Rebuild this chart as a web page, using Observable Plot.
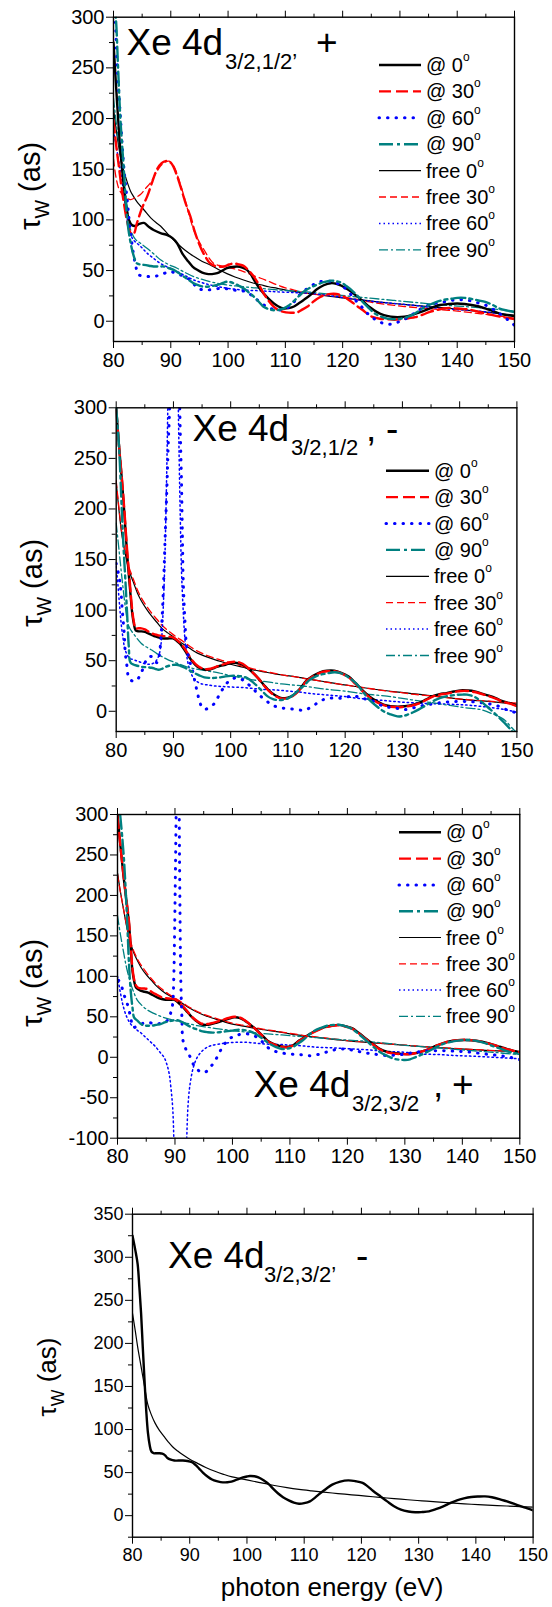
<!DOCTYPE html>
<html><head><meta charset="utf-8">
<script src="https://cdn.jsdelivr.net/npm/d3@7"></script>
<script src="https://cdn.jsdelivr.net/npm/@observablehq/plot@0.6"></script>
<style>
html,body{margin:0;padding:0;background:#fff;}
#wrap{position:relative;width:552px;height:1607px;background:#fff;overflow:hidden;}
#wrap svg{position:absolute;left:0;}
</style>
</head><body><div id="wrap"></div>
<script>
// ---------------- axis ticks ----------------
const xMajor = [80, 90, 100, 110, 120, 130, 140, 150];
const xMinor = [85, 95, 105, 115, 125, 135, 145];
const yMajorA = [0, 50, 100, 150, 200, 250, 300];
const yMinorA = [25, 75, 125, 175, 225, 275];
const yMajorC = [-100, -50, 0, 50, 100, 150, 200, 250, 300];
const yMinorC = [-75, -25, 25, 75, 125, 175, 225, 275];
const yMajorD = [0, 50, 100, 150, 200, 250, 300, 350];
const yMinorD = [-25, 25, 75, 125, 175, 225, 275, 325];
const legendLabels = ["@ 0", "@ 30", "@ 60", "@ 90", "free 0", "free 30", "free 60", "free 90"];

// ---------------- panel 1 : Xe 4d3/2,1/2', + ----------------
const p1_at0 = [[80,275],[80.6,218],[81.2,169],[81.8,133],[82.3,110],[82.7,100],[83.2,95],[83.8,94],[84.5,96],[85.3,97],[86.2,93],[87,90],[88.2,87],[89.4,85],[90.3,82],[91.1,77],[92,67],[92.9,60],[93.8,54],[94.6,50.7],[95.5,48],[96.3,46.7],[97.2,46.5],[98.1,47.4],[99,50],[99.8,52.3],[100.7,53.5],[101.6,54],[102.5,53],[103.3,50.7],[104,46],[104.5,41],[105.3,34],[106.2,27.5],[107.1,22],[108,17.5],[108.8,14.5],[109.7,12.6],[110.6,13],[111.5,14.5],[112.3,17.5],[113.2,21],[114.4,26],[115.5,31.5],[116.7,35.5],[117.9,37.5],[118.9,37],[119.8,35],[121,31],[122.2,26],[123.5,20],[124.7,14],[126,9],[127.2,6],[128.4,4.5],[129.6,4],[130.8,4.5],[132,6],[133.3,8.5],[134.5,11],[135.8,14],[137,16],[138.5,17],[140,17.5],[141.3,17],[142.5,16],[143.8,14.5],[145,12.5],[146.2,10],[147.4,7.5],[148.7,6],[150,5]];
const p1_at30 = [[80,198],[80.5,172],[81,150],[81.4,132],[81.8,117],[82.4,98],[83,87],[83.5,86],[84.1,97],[85,112],[85.9,123.5],[86.8,138],[87.6,150],[88.4,156],[89.1,158],[89.7,157.5],[90.2,155],[91,145],[91.7,133],[92.5,118],[93.4,103.6],[94.1,90],[94.9,77],[95.9,65],[96.9,57],[98.1,54],[99.3,54],[100.2,56],[101,57],[101.9,56],[102.7,54.6],[103.6,50],[104.5,44],[105.4,36],[106.2,27.5],[107.1,20],[108,14.2],[108.8,11],[109.7,9.3],[110.6,8.5],[111.4,8.3],[112,8.5],[112.8,11],[113.8,14.2],[114.6,18],[115.5,22],[116.7,25.5],[117.9,27],[118.9,27],[119.8,25.5],[120.7,22.5],[121.6,19],[122.5,15],[123.5,11],[124.4,7],[125.3,4],[126.5,2.5],[127.8,2],[129,1.5],[130.2,2],[131.5,3],[132.7,4],[134,6.5],[135.1,9],[136.4,11],[137.6,12.5],[139,13],[140,12.5],[141.3,12],[142.5,11],[144.3,8.5],[146.2,6],[148,4],[150,2]];
const p1_at60 = [[80,320],[80.3,300],[80.6,257],[81.2,202],[81.8,152],[82.4,119],[83,86],[83.8,57],[84.4,46],[85.4,44.5],[86.5,44],[87.4,44.5],[88.2,45.7],[89,47.5],[89.9,49],[90.8,47.5],[91.7,45.7],[92.5,43.5],[93.4,40.7],[94,37],[94.6,32.5],[95.4,31.2],[96.3,30.8],[97.5,31.5],[98.7,32.5],[99.8,32],[101,30.8],[102.2,30],[103.3,29],[104.2,25],[105.1,20.9],[106,17],[106.8,14.2],[107.7,12],[108.6,10.9],[109.6,12],[110.6,14],[111.5,19],[112.4,25.6],[113.3,30],[114.3,34],[115.2,37],[116.1,39],[117.2,39.5],[118.3,39],[119.2,37],[120.1,34],[121.2,28],[122.2,21],[123.2,15],[124.1,9],[125,4.5],[125.9,1],[126.8,-1.5],[127.8,-3],[128.7,-2.5],[129.6,-1],[130.6,1.5],[131.5,4],[132.4,7.5],[133.3,11],[134.2,13.5],[135.1,16],[136.4,18],[137.6,19],[138.8,20.5],[140,21],[141.3,21],[142.5,20],[143.7,18],[144.9,16],[146.2,12],[147.4,7.5],[148.7,2],[150,-4]];
const p1_at90 = [[80,320],[80.4,300],[80.8,250],[81.2,200],[81.8,150],[82.4,100],[83,77],[83.5,65],[84.1,57],[84.7,56],[85.3,55.6],[86.2,54.8],[87,54],[88,54],[88.8,54],[89.6,52.5],[90.5,50.7],[91.4,47.5],[92.3,44],[93.2,40.5],[94,37.4],[94.9,35.3],[95.8,34],[96.9,34.5],[98.1,35.8],[99,37.5],[99.8,39],[100.5,38.5],[101,37.4],[101.9,35],[102.7,32.5],[103.6,28.5],[104.5,24.2],[105.4,19],[106.2,14.2],[107.1,12],[108,10.9],[108.9,11.2],[109.7,12.6],[110.6,15.5],[111.5,20],[112.4,25],[113.3,29.5],[114.3,33],[115.5,36],[116.7,38.5],[117.9,40],[118.9,39.5],[119.8,38],[120.7,34.5],[121.6,30.5],[122.6,25],[123.5,19],[124.4,14],[125.3,9],[126.5,5],[127.8,2.6],[129,2],[130.2,2.6],[131.2,4],[132.1,6],[133,9],[133.9,12.5],[135.1,16],[136.4,19],[137.6,21],[138.8,22],[140,23],[141.3,23],[142.5,22],[143.7,20.5],[144.9,19],[146.2,16],[147.4,12.5],[148.7,10.5],[150,9]];
const p1_free0 = [[80,210],[80.7,180],[81.4,157],[82.3,139],[83,128],[83.4,124],[84.2,117],[85.3,110],[86.5,102],[87.5,97],[88.2,94],[89.5,86],[91.1,77],[92.5,70],[94,64],[95.5,59],[96.9,55.5],[98.3,51],[99.8,47],[101.2,43.7],[102.7,40.7],[104.2,38],[105.7,36],[107.1,34],[108.6,32.5],[110.9,30],[113.2,28],[116,26],[120,23],[124,20.5],[128,18],[132,16],[136,14],[140,12],[145,9],[150,6]];
const p1_free30 = [[80,160],[80.5,140],[81,130],[81.7,124],[82.4,121],[83,120],[83.8,122],[84.7,125],[85.6,131],[86.5,137],[87.3,145],[88.2,153],[89,157],[89.7,158],[90.3,155],[90.8,150],[91.5,138],[92.3,123.5],[93.2,105],[94,90],[94.9,79],[95.8,70.5],[96.6,63],[97.5,57],[98.4,55],[99.3,54],[100.5,52.5],[101.6,51],[102.7,49],[104.2,45.5],[105.7,42.4],[107.2,39],[108.6,35.8],[110,33],[111.5,30.8],[113,28.5],[114.4,27],[116.1,26],[118.6,25],[121.6,22.5],[124.7,19],[127.8,16.5],[130.8,14.5],[133.9,13],[137,11.5],[140,10],[143.1,8],[146.2,6],[150,3]];
const p1_free60 = [[80,188],[80.5,172],[81,155],[81.5,138],[82,118],[82.4,100],[82.9,87],[83.5,80],[84.1,77],[84.7,74],[85.3,70.5],[85.9,67],[87,62],[88.2,57],[89.6,53],[91.1,49],[92.5,45],[94,40.7],[95.5,38],[96.9,35.8],[98.4,34],[99.8,32.5],[101.3,31.5],[102.7,30.8],[104.2,30.4],[105.7,30],[107.2,29.5],[108.6,29],[111.5,28.3],[114.4,27.5],[118,25],[121.6,22],[125.3,19.5],[129,17.5],[132.7,15.5],[136.4,13],[140,11.5],[143.7,10],[147.4,7.5],[150,5]];
const p1_free90 = [[80,220],[80.6,190],[81.2,165],[81.8,140],[82.4,112],[83,90],[83.8,81],[84.7,77],[85.6,73],[86.5,69],[87.4,64.5],[88.2,60.6],[89.6,56],[91.1,52.3],[92.5,48],[94,44],[95.5,41.2],[96.9,39],[98.4,37.2],[99.8,35.8],[101.3,34.8],[102.7,34],[104.2,33.2],[105.7,32.5],[107.2,31.6],[108.6,30.8],[111.5,29.8],[114.4,28.6],[118,26.5],[121.6,24.5],[125.3,22.5],[129,20.5],[132.7,18.5],[136.4,16.5],[140,15],[143.7,13.5],[147.4,11.5],[150,10]];

// ---------------- panel 2 : Xe 4d3/2,1/2 , - ----------------
const p2_at0 = [[80,300],[80.5,262],[81,228],[81.5,190],[81.9,156],[82.4,122],[82.8,97],[83.1,86],[83.4,80],[83.9,79],[84.4,79],[85,78.5],[85.6,77],[86.2,75.5],[86.8,74],[87.4,73],[88,72],[89,72],[89.9,72],[90.5,70],[91.1,67],[91.7,62.5],[92.3,57.5],[93.2,50],[94.2,44],[95,42],[95.7,41],[96.5,41.5],[97.2,43],[98.2,45],[99.1,46],[99.9,47.5],[100.6,48],[101.4,47.5],[102.1,46],[103,42.5],[103.9,38],[104.9,32],[105.8,26],[106.7,20.5],[107.7,16],[108.6,13.5],[109.5,13],[110.5,14.5],[111.4,18],[112.3,23.5],[113.2,30],[114.4,35],[115.6,38.5],[116.8,40],[118.1,40],[119.3,38],[120.6,34.5],[121.8,28],[123,21],[124.3,14.5],[125.5,10],[126.7,6.5],[127.9,5],[129.2,4.5],[130.4,5],[131.6,6],[132.8,8],[134.1,11.5],[135.3,15],[136.5,17],[137.7,18],[139,19.5],[140.2,20.7],[141.4,20.5],[142.6,19.7],[143.9,17.5],[145.1,15.4],[146.3,13],[147.5,10],[148.8,8],[150,5.6]];
const p2_at30 = [[80,298],[80.5,262],[81,230],[81.5,193],[81.9,160],[82.4,126],[82.8,100],[83.1,88],[83.4,82],[83.9,82],[84.4,82],[85,81],[85.6,79],[86.2,77],[86.8,76],[87.4,75],[88,74.5],[89,74],[89.9,73],[90.5,71],[91.1,68],[91.7,64],[92.3,59],[93.2,51],[94.2,45],[95,42.5],[95.7,41.5],[96.5,42],[97.2,43.5],[98.2,45.5],[99.1,47],[99.9,48.5],[100.6,49],[101.4,48.5],[102.1,47],[103,43],[103.9,38],[104.9,32],[105.8,25.5],[106.7,20],[107.7,15.5],[108.6,13],[109.5,12.5],[110.5,14],[111.4,17.5],[112.3,23],[113.2,29.5],[114.4,34.5],[115.6,38],[116.8,39.5],[118.1,39.5],[119.3,37.5],[120.6,33.5],[121.8,27],[123,20],[124.3,13.5],[125.5,9],[126.7,6],[127.9,4.5],[129.2,4],[130.4,4.5],[131.6,5.5],[132.8,7.5],[134.1,11],[135.3,14.5],[136.5,16.5],[137.7,17.5],[139,19],[140.2,20],[141.4,20],[142.6,19],[143.9,17],[145.1,15],[146.3,12.5],[147.5,9.5],[148.8,7.5],[150,5]];
const p2_at60 = [[80,146],[80.5,133],[80.8,120],[81.1,97],[81.4,77],[81.6,57],[81.9,44],[82.2,33],[82.8,30],[83.4,30],[83.7,31],[84.1,35],[84.4,38],[84.9,46],[85.3,51],[85.8,54],[86.2,54],[86.7,51],[87.1,48],[87.4,52],[87.7,64],[88,90],[88.3,130],[88.6,180],[88.9,228],[89.1,265],[89.3,294],[89.5,340],[89.7,400],[90.9,400],[91.1,300],[91.4,228],[91.6,160],[91.7,130],[92,90],[92.3,64],[92.8,50],[93.3,41],[93.8,28],[94.2,18],[94.6,9],[95.1,3],[95.6,2],[96,3],[96.6,5],[97.2,8],[97.8,14],[98.5,21],[99.1,26],[99.7,30],[100.3,32],[100.9,33],[101.5,32.5],[102.1,31],[102.7,28.5],[103.4,25],[104.3,20],[105.2,15],[106.2,10.5],[107.1,6.6],[108,4.5],[108.9,3.3],[109.8,2.8],[110.7,2.3],[111.7,1.5],[112.6,1],[113.2,1.8],[113.8,3.3],[114.7,6.5],[115.6,10],[116.5,12],[117.5,13],[118.4,13.2],[119.3,13],[120.2,14],[121.2,15],[122.1,14.5],[123,13],[123.9,11.5],[124.8,10],[125.7,7.5],[126.7,5],[127.6,4],[128.5,3.3],[129.5,2.5],[130.4,1.6],[131.7,3],[133,5],[134.5,6.5],[136,8],[137.5,9],[139,9.5],[140.5,9.8],[141.8,9.5],[143,9],[144.3,8],[145.5,7],[146.8,5],[148,2],[149,0],[150,-1.6]];
const p2_at90 = [[80,300],[80.5,261],[81,196],[81.3,160],[81.6,130],[81.9,97],[82.2,64],[82.5,48],[83.1,46],[83.7,45],[84.4,44],[85.3,43.5],[86.2,43],[86.8,42],[87.4,41],[88,42],[88.7,44],[89.6,45.5],[90.5,46],[91.2,45],[92,43],[92.8,40.5],[93.6,38],[94.5,35.5],[95.4,33.5],[96.3,33],[97.2,33],[98.2,33.5],[99.1,34.5],[100,35],[100.9,35],[101.9,34.5],[102.8,33],[103.7,29.5],[104.6,25],[105.5,20],[106.4,15],[107.4,12],[108.3,11],[109.2,11.5],[110.1,13],[111,16.5],[111.9,21],[112.9,26],[113.8,31],[114.7,34],[115.6,36],[116.9,37.5],[118.1,38.5],[119,38],[119.9,36],[120.8,32.5],[121.8,28],[123,20],[124.2,11.5],[125.5,5],[126.7,0],[127.9,-3],[129.1,-5],[130,-4.8],[130.9,-3.3],[131.9,-1],[132.8,1.6],[133.7,4.5],[134.7,8],[135.9,11.5],[137.1,14],[138.4,15.5],[139.6,16.3],[140.5,16.5],[141.3,16.4],[142.5,14.5],[143.7,10],[144.6,5.5],[145.4,1.6],[146.3,-3],[147.2,-8],[148,-12.5],[148.9,-18],[149.5,-22],[150,-26]];
const p2_free0 = [[80,226],[80.5,198],[81,174],[81.6,155],[82.2,140],[82.7,132],[83.1,126],[83.7,117],[84.4,109],[85.3,101],[86.2,94],[87.1,88],[88,82],[89,77.5],[89.9,74],[90.8,70],[91.7,66.5],[92.9,62],[94.2,57.5],[95.7,54],[97.2,51],[98.7,48.5],[100.3,46],[102.1,43.5],[103.9,41],[105.8,39],[107.7,37],[109.5,35.5],[111.4,34],[113.2,32.2],[115,30.5],[116.9,28.8],[118.7,27],[120.6,25.5],[122.4,24],[124.2,22.5],[126.1,21],[127.9,19.8],[129.8,18.7],[131.6,17.5],[133.4,16.4],[135.3,15.2],[137.1,14],[139,12.8],[140.8,11.5],[142.6,10.7],[144.5,10],[146.4,9],[148.2,8],[150,7]];
const p2_free30 = [[80,228],[80.5,200],[81,176],[81.6,157],[82.2,143],[82.7,135],[83.1,129],[83.7,120],[84.4,112],[85.3,104],[86.2,97],[87.1,91],[88,85],[89,80],[89.9,76],[90.8,72.5],[91.7,69],[92.9,64],[94.2,59.5],[95.7,55.5],[97.2,52.5],[98.7,50],[100.3,47.5],[102.1,44.5],[103.9,42],[105.8,39.5],[107.7,37.5],[109.5,35.5],[111.4,34],[113.2,32],[115,30.5],[116.9,28.5],[118.7,27],[120.6,25.5],[122.4,24],[124.2,22.5],[126.1,21],[127.9,19.5],[129.8,18.5],[131.6,17],[133.4,16],[135.3,15],[137.1,13.8],[139,12.7],[140.8,11.8],[142.6,11],[144.5,10.2],[146.4,9.5],[148.2,8.8],[150,8]];
const p2_free60 = [[80,143],[80.3,125],[80.6,104],[80.9,85],[81.2,72],[81.5,62],[82,55],[82.5,52],[83,51],[83.5,50],[84,49],[84.5,48],[85,47],[85.5,46.5],[86,46.5],[86.5,47.5],[87,50],[87.5,56],[87.9,70],[88.2,100],[88.5,150],[88.7,200],[88.9,260],[89.1,330],[89.3,400],[90.6,400],[90.8,320],[91,250],[91.2,190],[91.4,140],[91.7,100],[92,72],[92.4,52],[92.9,40],[93.5,33],[94.2,29],[95,27],[96,26],[97.2,25],[98.5,24.5],[100,24],[102,23.5],[104,22.5],[106,21.5],[108,21],[110,20],[112,19],[114,17.5],[116,16.5],[118,15.5],[120,14.5],[122,13],[124,12],[126,11],[128,10],[130,9],[132,8.3],[135,7.5],[138,7],[140,6.5],[142,5.8],[145,4],[148,1.5],[150,-1]];
const p2_free90 = [[80,186],[80.5,159],[81,132],[81.6,103],[82.2,84],[83.1,76],[84.4,67],[85.3,63.5],[86.2,60.5],[87.1,57],[88,54],[89,51],[89.9,49],[91.1,46.5],[92.3,44],[93.5,42.2],[94.8,41],[96.3,39.5],[97.9,38],[99.7,35.5],[101.5,33.5],[103.4,31.5],[105.2,30],[107.1,28.5],[108.9,27],[110.7,26],[112.6,25],[114.5,23.5],[116.3,22],[118.1,21],[119.9,20],[121.8,18.5],[123.6,17],[125.5,16],[127.3,15],[129.7,13],[132.6,10.5],[135.5,8.2],[138.3,5.8],[141,3.5],[143.7,1.6],[145.7,-2.5],[147.7,-8],[149.4,-18],[150,-21]];

// ---------------- panel 3 : Xe 4d3/2,3/2 , + ----------------
const p3_at0 = [[80,300],[80.5,262],[81,227],[81.5,196],[82,165],[82.3,135],[82.6,107],[82.9,94],[83.2,86.5],[83.6,84],[84.1,82],[84.7,81],[85.3,80],[86.1,77],[86.9,74],[87.7,72],[88.4,71],[89.2,71],[89.9,71],[90.5,68],[91.1,64],[91.9,58],[92.7,51.5],[93.6,45.5],[94.5,41],[95.4,40],[96.3,41],[97.3,43],[98.2,45],[99.3,47.5],[100.3,49.4],[101.3,48.5],[102.2,45],[103,41],[103.7,37],[104.9,29],[106.1,20.6],[107,17],[108,14.4],[108.9,13],[109.8,13],[110.7,15.5],[111.6,20.6],[112.6,25],[113.5,29],[114.7,33.5],[115.9,37],[117.2,39],[118.4,40],[119.6,38.5],[120.8,36],[122,30],[123.3,22.7],[124.5,16],[125.7,10],[127,6.5],[128.2,5],[129.4,4.2],[130.6,4],[131.8,5.2],[133,7.4],[134.3,10.5],[135.5,14.4],[136.7,17.5],[137.9,19.8],[139.2,21],[140.4,21.4],[141.6,21],[142.9,19.8],[144.1,18],[145.3,15.7],[146.5,13],[147.7,10.3],[148.9,8],[150,6.2]];
const p3_at30 = [[80,298],[80.5,262],[81,228],[81.5,198],[82,168],[82.3,138],[82.6,110],[82.9,96],[83.2,89],[83.6,86],[84.1,85],[84.7,85],[85.3,84],[86.1,80],[86.9,77],[87.7,74],[88.4,73],[89.2,72.5],[89.9,72],[90.5,69],[91.1,65],[91.9,59],[92.7,52],[93.6,46],[94.5,42],[95.4,41],[96.3,42],[97.3,44],[98.2,46],[99.3,48.5],[100.3,50],[101.3,49],[102.2,45.5],[103,41],[103.7,37],[104.9,28.5],[106.1,20],[107,16.5],[108,14],[108.9,12.5],[109.8,12.5],[110.7,15],[111.6,20],[112.6,24.5],[113.5,28.5],[114.7,33],[115.9,36.5],[117.2,38.5],[118.4,39.5],[119.6,38],[120.8,35.5],[122,29.5],[123.3,22],[124.5,15.5],[125.7,9.5],[127,6],[128.2,4.5],[129.4,4],[130.6,3.8],[131.8,5],[133,7.2],[134.3,10.5],[135.5,14.4],[136.7,17.5],[137.9,20],[139.2,21.2],[140.4,21.6],[141.6,21.2],[142.9,20],[144.1,18],[145.3,15.5],[146.5,12.8],[147.7,10],[148.9,8],[150,6.5]];
const p3_at60 = [[80.2,95],[80.6,90],[81.1,78],[81.7,66],[82.3,49],[82.7,37],[83.3,38],[84.1,41],[84.7,42.5],[85.3,43],[86.1,42],[86.9,41],[87.5,42],[88.1,43],[88.6,45],[89,49],[89.3,56],[89.6,66],[89.8,100],[89.95,160],[90.1,240],[90.25,330],[90.4,420],[90.55,420],[90.7,330],[90.8,240],[90.9,160],[91,100],[91.2,50],[91.4,20.6],[91.9,10],[92.4,4],[92.9,-4],[93.3,-10],[93.9,-15],[94.5,-18.5],[95.1,-18.5],[95.7,-16.5],[96.3,-11],[97,-4],[97.6,4],[98.2,12],[98.8,18],[99.4,22.7],[100,25],[100.6,26.8],[101.5,28.5],[102.5,29],[103.4,27.5],[104.3,24.7],[105.2,19],[106.1,12.4],[107,8.5],[108,6.2],[108.9,5],[109.8,4],[110.7,3.6],[111.6,3.3],[112.6,2.6],[113.5,2],[114.4,2.8],[115.3,4],[116.2,6],[117.1,8],[118,9.5],[119,10.3],[119.9,9.8],[120.8,9],[121.7,7.5],[122.7,6.2],[123.6,5],[124.5,4],[125.8,3],[127,2],[128.2,2.6],[129.4,3.3],[130.6,4.8],[131.8,6.2],[133,7.2],[134.3,8],[135.5,8],[136.7,8],[138,7.7],[139.2,7.4],[140.4,6.8],[141.6,6.2],[142.9,5],[144.1,4],[145.3,3],[146.5,2],[147.7,0.8],[148.9,-1],[150,-3.3]];
const p3_at90 = [[80,330],[80.5,297],[81.1,247],[81.7,165],[82,115],[82.3,82],[82.6,62],[82.9,49],[83.5,45],[84.1,41],[84.7,39],[85.3,39],[85.9,39],[86.7,40],[87.5,41],[88.2,43],[89,44.5],[89.6,45.5],[90.2,46],[90.8,45],[91.4,43],[92.1,40],[92.9,37],[93.8,34.5],[94.8,32],[95.7,31],[96.6,30.5],[97.7,31],[98.8,32],[100,33],[101.2,34],[102.1,33.5],[103.1,32],[104,29],[104.9,24.7],[105.8,20],[106.7,15.7],[107.6,12.5],[108.6,10.3],[109.5,10.6],[110.4,12.4],[111.3,16.5],[112.3,21.4],[113.2,27],[114.1,32],[115.3,36],[116.5,39],[117.6,40],[118.7,40],[119.8,38],[120.8,35],[122,28.5],[123.3,20.6],[124.5,13],[125.7,6.2],[127,1.5],[128.2,-2],[129.1,-3],[130,-3.3],[130.9,-2.5],[131.8,0],[133,3.5],[134.3,8],[135.5,12.5],[136.7,16.5],[138,19],[139.2,20.6],[140.1,21.2],[141,21.4],[142.3,20.5],[143.5,18.5],[144.7,15.5],[145.9,12.4],[147.2,9],[148.4,6.2],[150,4]];
const p3_free0 = [[80,228],[80.5,205],[81,185],[81.5,165],[82,148],[82.5,136],[82.9,128],[83.5,119],[84.1,111],[85,102],[85.9,95],[86.8,88],[87.8,82],[88.7,77.5],[89.6,74],[90.5,70],[91.4,66],[92.6,60.5],[93.9,55.6],[95.4,51],[97,47.4],[98.5,44],[100,41],[101.9,38.5],[103.7,36],[105.5,34],[107.4,32],[109.2,30],[111,28],[112.9,26.3],[114.7,24.7],[116.5,23],[118.4,21.5],[120.2,20.2],[122,19.2],[123.9,18.2],[125.7,17.2],[127.5,16.2],[129.4,15.2],[131.2,14.2],[133,13.2],[134.9,12.3],[136.7,11.5],[138.5,10.7],[140.4,10],[142.2,9.3],[144.1,8.6],[146,8],[148,7.5],[150,7]];
const p3_free30 = [[80,226],[80.5,204],[81,185],[81.5,166],[82,150],[82.5,138],[82.9,130],[83.5,121],[84.1,114],[85,105],[85.9,97],[86.8,90],[87.8,84],[88.7,79],[89.6,75],[90.5,71],[91.4,67],[92.6,61.5],[93.9,56.5],[95.4,52],[97,48.5],[98.5,45],[100,42],[101.9,39.5],[103.7,37],[105.5,34.5],[107.4,32.5],[109.2,30.5],[111,28.5],[112.9,26.5],[114.7,25],[116.5,23.5],[118.4,22],[120.2,20.5],[122,19.4],[123.9,18.4],[125.7,17.4],[127.5,16.4],[129.4,15.4],[131.2,14.4],[133,13.4],[134.9,12.5],[136.7,11.7],[138.5,10.9],[140.4,10.2],[142.2,9.5],[144.1,8.8],[146,8.2],[148,7.7],[150,7.2]];
const p3_free60 = [[80,100],[80.5,80],[81,63],[81.6,50],[82.3,41],[82.9,37],[83.5,33],[84.1,30],[84.7,26],[85.3,22],[85.9,18],[86.5,14],[87.3,7],[88.1,0],[88.6,-9],[89,-20.6],[89.3,-38],[89.6,-62],[89.8,-100],[89.9,-140],[91.9,-140],[92.05,-100],[92.25,-62],[92.5,-40],[92.7,-30],[93,-18],[93.3,-10],[93.8,-1],[94.5,6],[95.3,11],[96.3,14.4],[97.8,16.5],[99.4,18],[101,18.5],[102.5,18.5],[104,17.5],[105.5,16.5],[107,16],[108.6,15.7],[110.1,15],[111.6,14.4],[113.2,13.4],[114.7,12.4],[116.2,12],[117.8,11.5],[119.3,11],[120.8,10.3],[122.3,9.7],[123.9,9],[125.4,8.2],[126.9,7.4],[128.4,6.8],[130,6.2],[131.5,5.1],[133,4],[134.6,3.6],[136.1,3.3],[137.6,2.6],[139.2,2],[140.7,1.6],[142.2,1.2],[143.7,0.6],[145.3,0],[146.8,-0.6],[148.4,-1.2],[150,-2]];
const p3_free90 = [[80,175],[80.5,152],[81,132],[81.6,110],[82.3,91],[82.9,79],[83.5,70],[84.4,63],[85.3,58],[86.2,54.5],[87.2,51.5],[88.1,49],[89,47],[90.2,45],[91.4,43],[92.7,41],[93.9,39],[95.7,37],[97.6,35],[99.4,33.5],[101.2,32],[103.1,30.8],[104.9,29.7],[106.7,28.6],[108.6,27.6],[110.4,26.5],[112.3,25.5],[114.1,24.5],[115.9,23.5],[117.8,22.5],[119.6,21.4],[121.4,20.6],[123.3,19.8],[125.1,18.5],[127,17.3],[128.8,15.8],[130.6,14.4],[132.5,13.4],[134.3,12.4],[136.1,11.4],[138,10.3],[139.8,9.2],[141.6,8.2],[143.5,7.2],[145.3,6.2],[147.2,5],[150,3.3]];

// ---------------- panel 4 : Xe 4d3/2,3/2', - ----------------
const p4_at0 = [[80,325],[80.5,308],[80.9,292],[81.2,265],[81.5,235],[81.8,195],[82.1,157],[82.4,122],[82.7,96],[83,82],[83.3,74.5],[83.7,72.5],[84.2,72.5],[84.7,72.5],[85.2,72],[85.7,70],[86.1,67],[86.7,65],[87.3,64],[88,64],[88.8,64],[89.6,63.5],[90.4,62],[91,59],[91.6,55],[92.3,50],[93.1,45.5],[93.9,42],[94.7,40],[95.4,39],[96.2,38.6],[97,39.2],[97.7,40.5],[98.5,42.5],[99.3,44.4],[100,45.5],[100.5,46],[101.3,45.7],[102,44.4],[102.9,41],[103.9,36],[104.6,31],[105.4,26],[106.3,21.5],[107.3,17.8],[108.2,15.2],[109.1,13.9],[110,14.5],[111,16.6],[111.9,21],[112.8,26],[113.8,31],[114.9,36],[116.3,39.5],[117.7,41],[119,40],[120.2,38],[121.1,34],[122,29],[123.3,22.5],[124.5,16.6],[125.7,11],[126.9,7],[128.2,4.8],[129.4,3.9],[130.6,4.2],[131.8,5],[133,7.5],[134.3,10.8],[135.5,14.5],[136.7,17.8],[137.9,20],[139.2,21.6],[140.4,22.2],[141.6,22.4],[142.8,21.4],[144.1,19.3],[145.3,16.8],[146.6,13.9],[147.8,11],[149,8.5],[150,6.2]];
const p4_free0 = [[80,235],[80.5,214],[80.9,196],[81.5,173],[82.1,150],[82.7,128.5],[83.3,117],[83.9,108],[84.7,99],[85.5,92],[86.2,86],[87,80],[87.9,75],[88.8,70.6],[90,65.5],[91.3,61],[92.8,56],[94.4,51.5],[95.9,48],[97.4,45],[99.3,42.5],[101.1,40],[103,37.5],[104.8,35],[107,32.5],[109.1,30.5],[111.3,28.8],[113.4,27.3],[115.9,25.7],[118.3,24.2],[120.8,22.7],[123.2,21.2],[125.7,19.8],[128.1,18.5],[130.6,17.2],[133.1,16],[135.5,14.8],[138,13.7],[140.4,12.8],[142.9,12],[145.4,11.2],[147.7,10.5],[150,10]];

// ---------------- styles ----------------
const styleAt0   = {stroke: "#000000", strokeWidth: 2.4};
const styleAt30  = {stroke: "#ff0000", strokeWidth: 2.4, strokeDasharray: "12,5"};
const styleAt60  = {stroke: "#0000ff", strokeWidth: 3, strokeDasharray: "0.5,8", strokeLinecap: "round"};
const styleAt90  = {stroke: "#008080", strokeWidth: 2.4, strokeDasharray: "14,4,3,4"};
const styleFree0 = {stroke: "#000000", strokeWidth: 1.2};
const styleFree30= {stroke: "#ff0000", strokeWidth: 1.3, strokeDasharray: "7,4"};
const styleFree60= {stroke: "#0000ff", strokeWidth: 1.5, strokeDasharray: "1.5,3"};
const styleFree90= {stroke: "#008080", strokeWidth: 1.3, strokeDasharray: "9,3,2,3"};
const legendStyles = [styleAt0, styleAt30, styleAt60, styleAt90, styleFree0, styleFree30, styleFree60, styleFree90];

const FONT = "'Liberation Sans', Arial, Helvetica, sans-serif";

function makePanel(cfg) {
  const marks = [];
  marks.push(Plot.axisX({ticks: xMajor, tickSize: 7, tickPadding: 4, tickFormat: d => String(d), label: null}));
  marks.push(Plot.axisX({ticks: xMinor, tickSize: 4, text: null, label: null}));
  marks.push(Plot.axisX({anchor: "top", ticks: xMajor, tickSize: 7, text: null, label: null}));
  marks.push(Plot.axisX({anchor: "top", ticks: xMinor, tickSize: 4, text: null, label: null}));
  marks.push(Plot.axisY({ticks: cfg.yMajor, tickSize: 7, tickPadding: 2, tickFormat: d => String(d), label: null}));
  marks.push(Plot.axisY({ticks: cfg.yMinor, tickSize: 4, text: null, label: null}));
  for (const [data, st] of cfg.series) {
    marks.push(Plot.line(data, {x: d => d[0], y: d => d[1], curve: "catmull-rom", clip: true, ...st}));
  }
  marks.push(Plot.frame({stroke: "#000", strokeWidth: 1.4}));
  const svg = Plot.plot({
    width: 552, height: cfg.height,
    marginLeft: cfg.ml, marginRight: cfg.mr, marginTop: cfg.mt, marginBottom: cfg.mb,
    x: {domain: [80, 150]},
    y: {domain: cfg.yDomain},
    style: {fontFamily: FONT, fontSize: cfg.fs + "px", color: "#000", background: "transparent", overflow: "visible"},
    marks
  });
  svg.style.top = cfg.top + "px";
  document.getElementById("wrap").appendChild(svg);
  const s = d3.select(svg);
  // y label
  const yl = s.append("text")
    .attr("transform", `translate(${cfg.ylx},${cfg.yly}) rotate(-90)`)
    .attr("text-anchor", "middle").attr("font-family", FONT).attr("font-size", cfg.ylfs).attr("fill", "#000");
  yl.append("tspan").text("τ");
  yl.append("tspan").attr("font-size", cfg.ylfs * 0.68).attr("dy", cfg.ylfs * 0.3).text("W");
  yl.append("tspan").attr("dy", -cfg.ylfs * 0.3).text(" (as)");
  // title
  const t = cfg.title;
  const tt = s.append("text").attr("text-anchor", "start").attr("font-family", FONT).attr("fill", "#000").attr("font-size", 37);
  tt.append("tspan").attr("x", t.x).attr("y", t.y).text("Xe 4d");
  tt.append("tspan").attr("x", t.subX).attr("y", t.y + 14).attr("font-size", 22).text(t.sub);
  for (const [txt, x] of t.rest) tt.append("tspan").attr("x", x).attr("y", t.y).text(txt);
  // legend
  if (cfg.legend) {
    const L = cfg.legend;
    legendLabels.forEach((lab, i) => {
      const y = L.y0 + i * L.dy;
      const st = legendStyles[i];
      s.append("line").attr("x1", L.x1).attr("x2", L.x2).attr("y1", y).attr("y2", y)
        .attr("stroke", st.stroke).attr("stroke-width", st.strokeWidth)
        .attr("stroke-dasharray", st.strokeDasharray || null)
        .attr("stroke-linecap", st.strokeLinecap || null);
      const tx = s.append("text").attr("text-anchor", "start").attr("x", L.tx).attr("y", y + 7).attr("font-family", FONT)
        .attr("font-size", 20).attr("fill", "#000").text(lab);
      tx.append("tspan").attr("font-size", 12).attr("dy", -11).text("o");
    });
  }
  return s;
}

const allEight = (a0, a30, a60, a90, f0, f30, f60, f90) => [
  [f0, styleFree0], [f30, styleFree30], [f60, styleFree60], [f90, styleFree90],
  [a0, styleAt0], [a30, styleAt30], [a60, styleAt60], [a90, styleAt90]
];

makePanel({
  top: 0, height: 381, ml: 113, mr: 38, mt: 16.7, mb: 40, fs: 20,
  yDomain: [-20, 300], yMajor: yMajorA, yMinor: yMinorA,
  series: allEight(p1_at0, p1_at30, p1_at60, p1_at90, p1_free0, p1_free30, p1_free60, p1_free90),
  ylx: 40, yly: 186, ylfs: 29,
  title: {x: 126.5, y: 55, subX: 225, sub: "3/2,1/2’", rest: [["+", 316]]},
  legend: {x1: 379, x2: 421, tx: 426, y0: 65, dy: 26.4}
});
makePanel({
  top: 390, height: 381, ml: 115.7, mr: 35.6, mt: 17.3, mb: 40, fs: 20,
  yDomain: [-20, 300], yMajor: yMajorA, yMinor: yMinorA,
  series: allEight(p2_at0, p2_at30, p2_at60, p2_at90, p2_free0, p2_free30, p2_free60, p2_free90),
  ylx: 42, yly: 193, ylfs: 29,
  title: {x: 192.5, y: 51, subX: 291, sub: "3/2,1/2", rest: [[",", 366], ["-", 386]]},
  legend: {x1: 386, x2: 429, tx: 434, y0: 80.7, dy: 26.4}
});
makePanel({
  top: 797, height: 381, ml: 117, mr: 32.7, mt: 17, mb: 40.3, fs: 20,
  yDomain: [-100, 300], yMajor: yMajorC, yMinor: yMinorC,
  series: allEight(p3_at0, p3_at30, p3_at60, p3_at90, p3_free0, p3_free30, p3_free60, p3_free90),
  ylx: 42, yly: 186, ylfs: 29,
  title: {x: 253.6, y: 299.7, subX: 352, sub: "3/2,3/2", rest: [[",", 433], ["+", 452]]},
  legend: {x1: 399, x2: 441, tx: 446, y0: 35.3, dy: 26.3}
});
const s4 = makePanel({
  top: 1197, height: 410, ml: 132, mr: 19.4, mt: 16.7, mb: 70.3, fs: 18,
  yDomain: [-25, 350], yMajor: yMajorD, yMinor: yMinorD,
  series: [[p4_free0, styleFree0], [p4_at0, styleAt0]],
  ylx: 56, yly: 180, ylfs: 26,
  title: {x: 168, y: 71.3, subX: 264, sub: "3/2,3/2’", rest: [["-", 356]]},
  legend: null
});
s4.append("text").attr("x", 332).attr("y", 399).attr("text-anchor", "middle")
  .attr("font-family", FONT).attr("font-size", 26).attr("fill", "#000").text("photon energy (eV)");
</script>
</body></html>
